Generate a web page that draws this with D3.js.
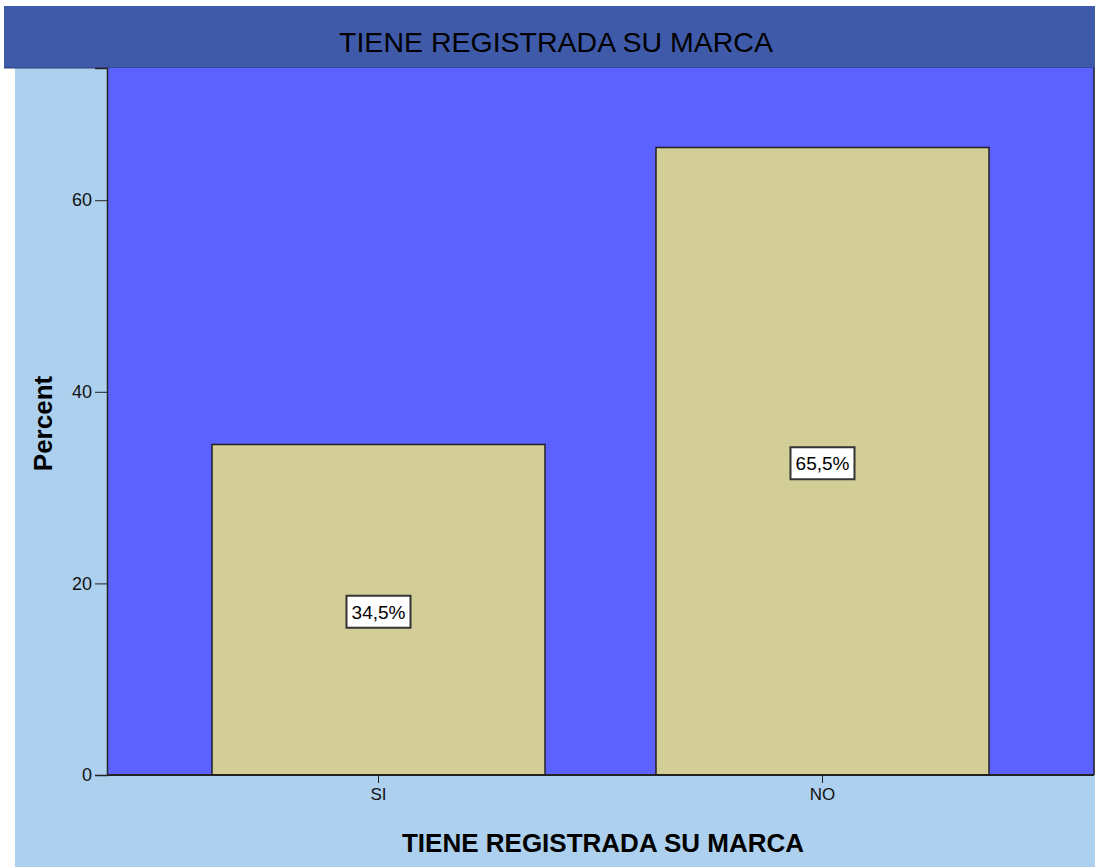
<!DOCTYPE html>
<html>
<head>
<meta charset="utf-8">
<script src="https://cdn.jsdelivr.net/npm/d3@7"></script>
<style>
  html, body { margin: 0; padding: 0; background: #fff; }
  svg { display: block; font-family: "Liberation Sans", Arial, sans-serif; }
</style>
</head>
<body>
<svg id="chart" width="1095" height="867"></svg>
<script>
const categories = ["SI", "NO"];
const percents = [34.5, 65.5];
const labels = ["34,5%", "65,5%"];
const yTicks = [0, 20, 40, 60];

const svg = d3.select("#chart");
const W = 1095, H = 867;
const margin = { left: 107, right: 1, top: 68, bottom: 92 };
const plotW = W - margin.left - margin.right;
const plotH = H - margin.top - margin.bottom;

// background pieces
svg.append("rect").attr("x", 15).attr("y", 68).attr("width", W - 15).attr("height", H - 68).attr("fill", "#acd0ee");
svg.append("rect").attr("x", 4).attr("y", 6).attr("width", W - 4).attr("height", 62).attr("fill", "#3f5aa9");
svg.append("line").attr("x1", 4).attr("x2", W).attr("y1", 68).attr("y2", 68)
  .attr("stroke", "#2e3f7a").attr("stroke-width", 1);
svg.append("text")
  .attr("x", 556).attr("y", 52)
  .attr("text-anchor", "middle")
  .attr("font-size", 28.5)
  .attr("fill", "#000")
  .text("TIENE REGISTRADA SU MARCA");

const x = d3.scaleBand().domain(categories).range([0, plotW]).paddingInner(0.25).paddingOuter(0.2365);
const y = d3.scaleLinear().domain([0, 73.8]).range([plotH, 0]);

const g = svg.append("g").attr("transform", `translate(${margin.left},${margin.top})`);

g.append("rect").attr("width", plotW).attr("height", plotH).attr("fill", "#5c62ff");

g.selectAll("rect.bar")
  .data(categories)
  .join("rect")
  .attr("class", "bar")
  .attr("x", d => x(d))
  .attr("y", (d, i) => y(percents[i]))
  .attr("width", x.bandwidth())
  .attr("height", (d, i) => plotH - y(percents[i]))
  .attr("fill", "#d3ce98")
  .attr("stroke", "#222")
  .attr("stroke-width", 1.5);

// bar labels
const lab = g.selectAll("g.lab")
  .data(categories)
  .join("g")
  .attr("class", "lab")
  .attr("transform", (d, i) => `translate(${x(d) + x.bandwidth() / 2},${(y(percents[i]) + plotH) / 2 + 2})`);
lab.append("rect")
  .attr("x", -32).attr("y", -16).attr("width", 64).attr("height", 32)
  .attr("fill", "#fff").attr("stroke", "#333").attr("stroke-width", 2);
lab.append("text")
  .attr("text-anchor", "middle").attr("y", 7)
  .attr("font-size", 19).attr("fill", "#000")
  .text((d, i) => labels[i]);

// axes
const yAxis = g.append("g").call(d3.axisLeft(y).tickValues(yTicks).tickSize(12).tickPadding(3));
const xAxis = g.append("g").attr("transform", `translate(0,${plotH})`)
  .call(d3.axisBottom(x).tickSize(8).tickPadding(5));
yAxis.selectAll("text").attr("font-size", 18);
xAxis.selectAll("text").attr("font-size", 17);
[yAxis, xAxis].forEach(a => {
  a.selectAll("text").attr("fill", "#111")
    .attr("font-family", "'Liberation Sans', Arial, sans-serif");
  a.selectAll("line").attr("stroke", "#222");
  a.select(".domain").attr("stroke", "#222").attr("stroke-width", 1.5);
});
xAxis.select(".domain").remove();
g.append("line").attr("x1", 0).attr("x2", plotW).attr("y1", plotH).attr("y2", plotH)
  .attr("stroke", "#222").attr("stroke-width", 2);
g.append("line").attr("x1", plotW).attr("x2", plotW).attr("y1", 0).attr("y2", plotH)
  .attr("stroke", "#222").attr("stroke-width", 1.5);

svg.append("text")
  .attr("transform", `translate(52,${margin.top + plotH / 2 + 2}) rotate(-90)`)
  .attr("text-anchor", "middle")
  .attr("font-size", 26).attr("font-weight", "bold")
  .text("Percent");

svg.append("text")
  .attr("x", 603).attr("y", 852)
  .attr("text-anchor", "middle")
  .attr("font-size", 26).attr("font-weight", "bold")
  .text("TIENE REGISTRADA SU MARCA");
</script>
</body>
</html>
